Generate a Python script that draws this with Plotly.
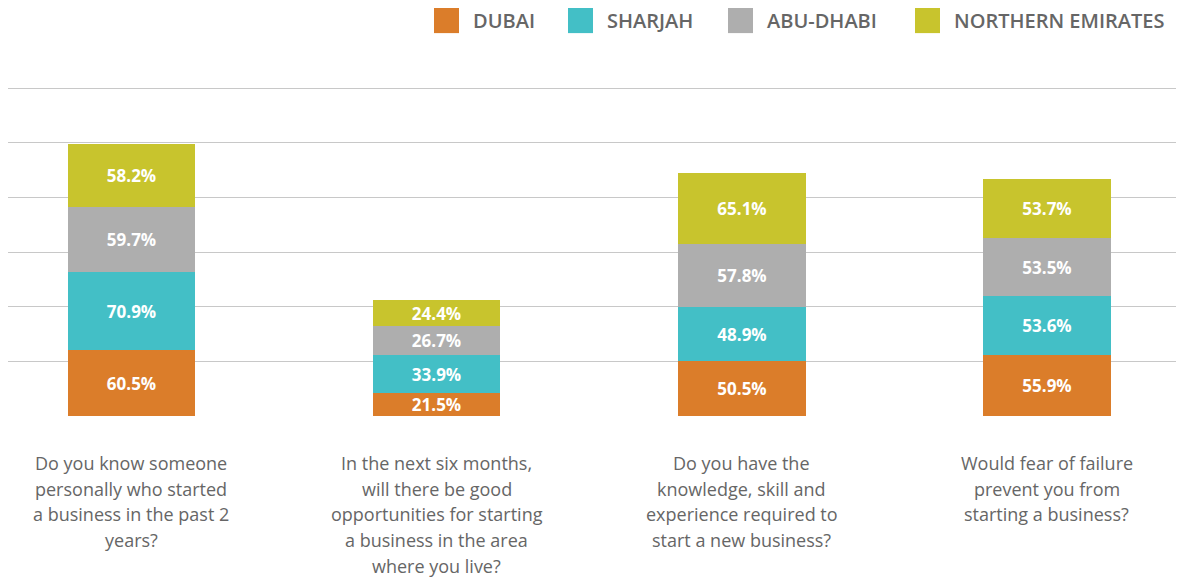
import plotly.graph_objects as go

questions = [
    "Do you know someone<br>personally who started<br>a business in the past 2<br>years?",
    "In the next six months,<br>will there be good<br>opportunities for starting<br>a business in the area<br>where you live?",
    "Do you have the<br>knowledge, skill and<br>experience required to<br>start a new business?",
    "Would fear of failure<br>prevent you from<br>starting a business?",
]
series_names = ["DUBAI", "SHARJAH", "ABU-DHABI", "NORTHERN EMIRATES"]
dubai = [60.5, 21.5, 50.5, 55.9]
sharjah = [70.9, 33.9, 48.9, 53.6]
abu_dhabi = [59.7, 26.7, 57.8, 53.5]
northern = [58.2, 24.4, 65.1, 53.7]
y_ticks = [0, 50, 100, 150, 200, 250, 300]

colors = ["#DB7D2A", "#43BFC6", "#AEAEAE", "#C8C42D"]
series_values = [dubai, sharjah, abu_dhabi, northern]
xs = list(range(len(questions)))

# page has an 8px body margin; size figure to fit the window
OFF = 8
W, H = 1184 - OFF, 579 - OFF
Y_MAX = 301
plot_bottom = 416 - OFF
plot_h = 328 * Y_MAX / 300
ML, MR = 0, 0
MT = plot_bottom - plot_h
MB = H - plot_bottom
plot_w = W - ML - MR

fig = go.Figure()
for name, vals, col in zip(series_names, series_values, colors):
    fig.add_trace(go.Bar(
        x=xs, y=vals, name=name, marker=dict(color=col, line=dict(width=0)),
        width=0.418,
        text=[f"{v:.1f}%" for v in vals],
        textposition="inside", insidetextanchor="middle", textangle=0,
        constraintext="none",
        textfont=dict(family="Open Sans", size=17, color="white", weight="bold"),
        showlegend=False, hoverinfo="skip",
    ))

annotations = []
line_gap = 25.7
for i, q in enumerate(questions):
    for j, line in enumerate(q.split("<br>")):
        annotations.append(dict(
            x=xs[i], y=0, xref="x", yref="y", text=line, showarrow=False,
            xanchor="center", yanchor="middle", yshift=-(47 + line_gap * j),
            font=dict(family="Open Sans", size=18, color="#666666"),
        ))

# legend (drawn manually with shapes + text), page pixel positions
legend_sq_x = [434, 568, 728, 915]
legend_y_top, legend_y_bot = 7, 33
shapes = []
for name, col, sx in zip(series_names, colors, legend_sq_x):
    px0 = sx - OFF
    x0 = (px0 - ML) / plot_w
    x1 = (px0 + 25 - ML) / plot_w
    y0 = (plot_bottom - (legend_y_bot - OFF)) / plot_h
    y1 = (plot_bottom - (legend_y_top - OFF)) / plot_h
    shapes.append(dict(type="rect", xref="paper", yref="paper", x0=x0, x1=x1,
                       y0=y0, y1=y1, fillcolor=col, line=dict(width=0)))
    annotations.append(dict(
        x=(px0 + 37 - ML) / plot_w, y=(plot_bottom - (20 - OFF)) / plot_h,
        xref="paper", yref="paper",
        text=name, showarrow=False, xanchor="left", yanchor="middle",
        font=dict(family="Open Sans", size=20, color="#666666", weight=600),
    ))

fig.update_layout(
    barmode="stack",
    width=W, height=H,
    margin=dict(l=ML, r=MR, t=MT, b=MB, pad=0),
    paper_bgcolor="white", plot_bgcolor="white",
    xaxis=dict(range=[-0.404 - 0.0, 3.449], showticklabels=False, showgrid=False,
               zeroline=False, showline=False, fixedrange=True),
    yaxis=dict(range=[0, Y_MAX], tickvals=y_ticks, showticklabels=False,
               showgrid=True, gridcolor="#C8C8C8", gridwidth=1,
               zeroline=False, showline=False, fixedrange=True),
    annotations=annotations, shapes=shapes,
    bargap=0,
)

fig.write_html("out.html")
